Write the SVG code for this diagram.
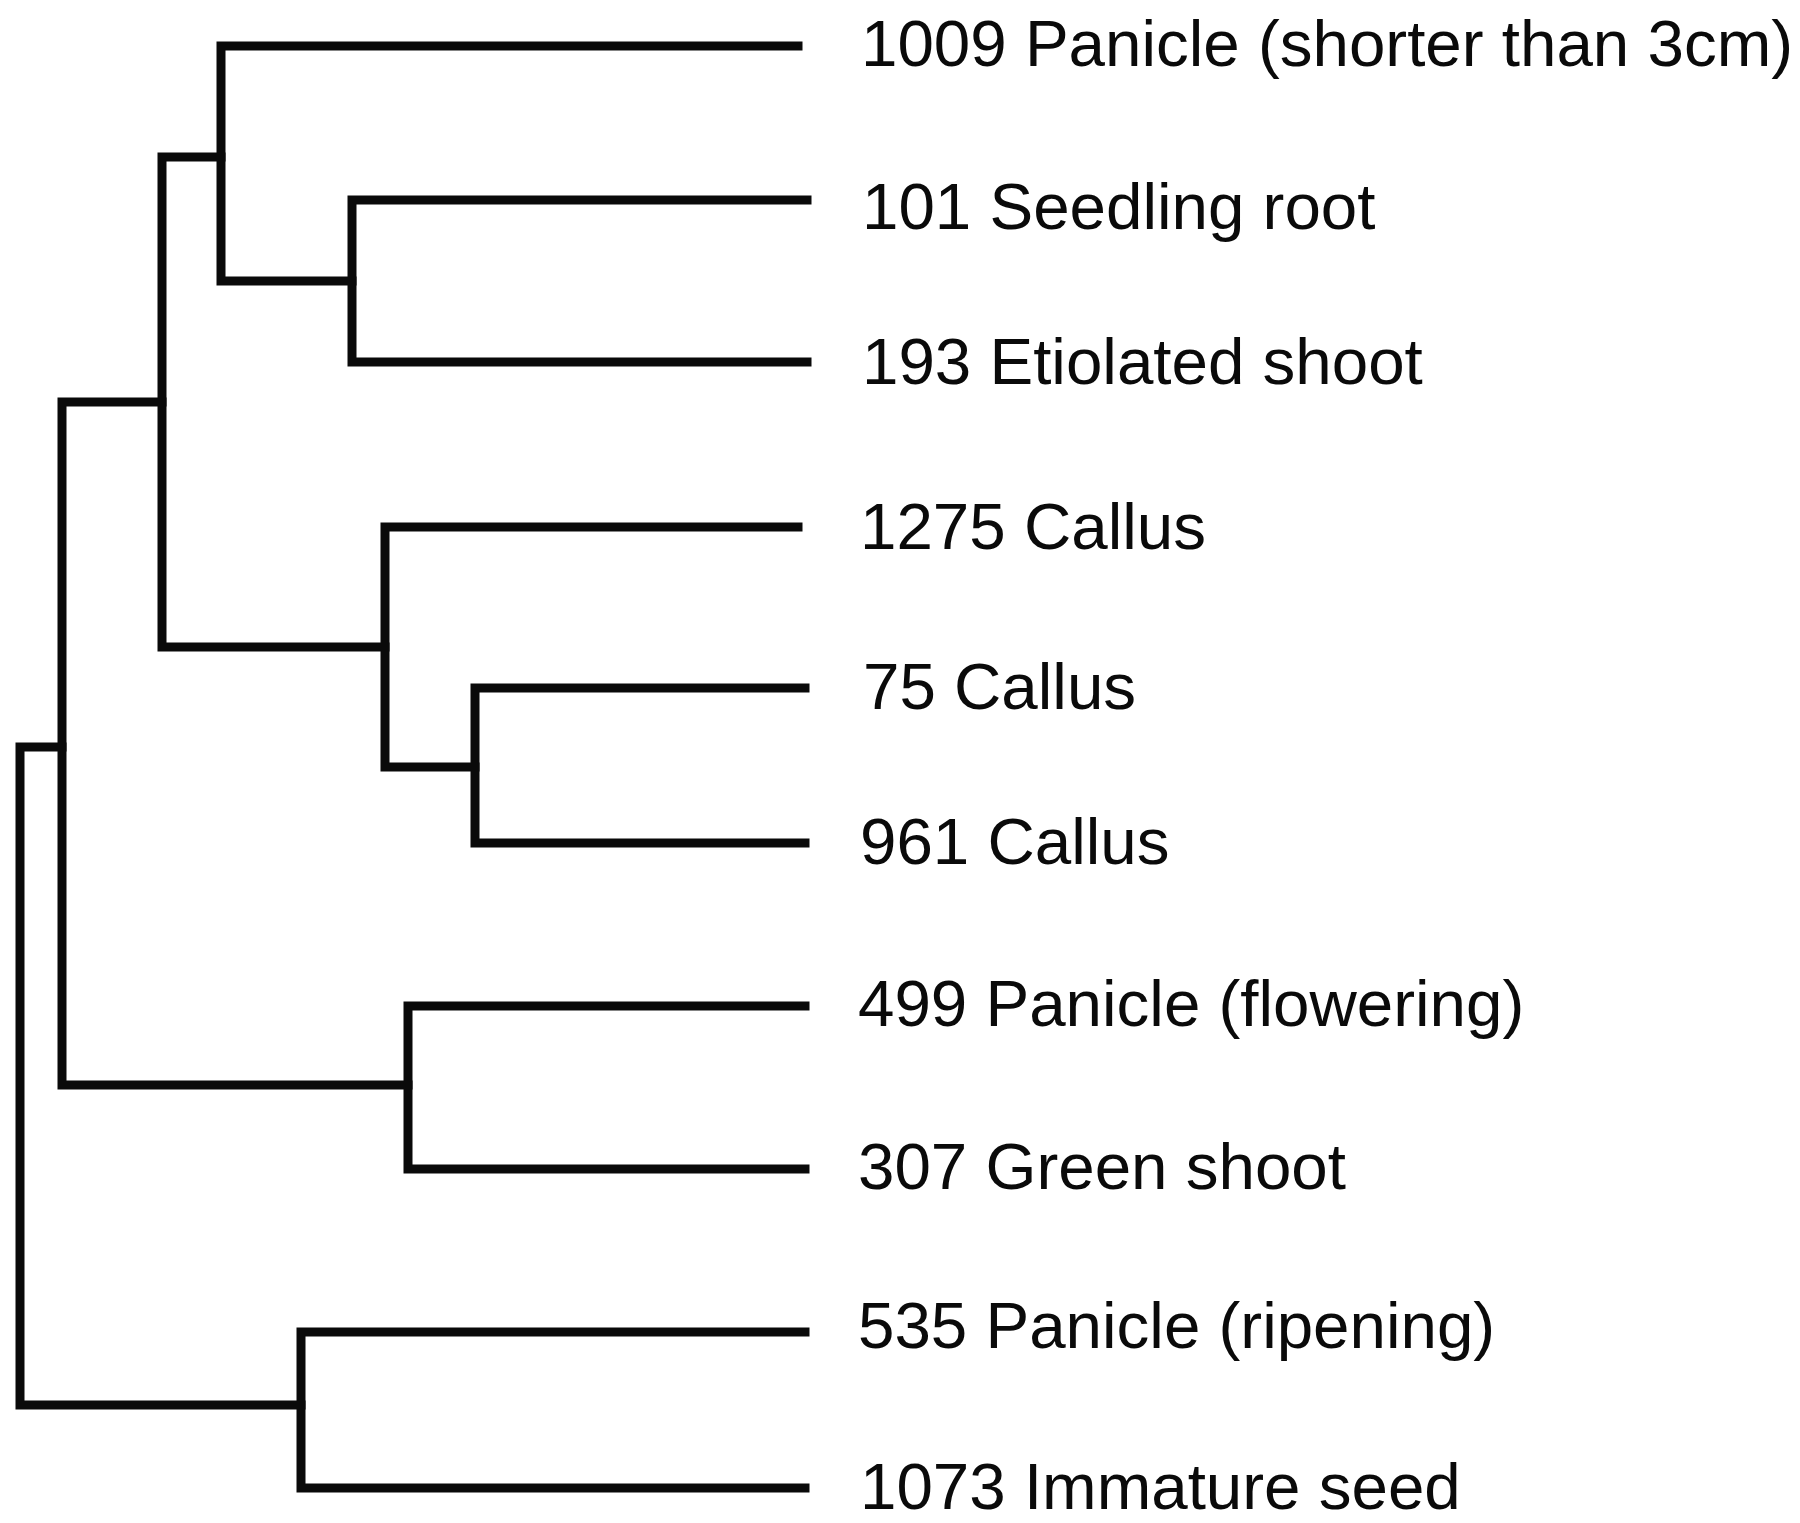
<svg xmlns="http://www.w3.org/2000/svg" width="1800" height="1523" viewBox="0 0 1800 1523">
<style>
.br{fill:none;stroke:#0a0a0a;stroke-width:9;stroke-linecap:square;stroke-linejoin:miter}
.lb{font-family:"Liberation Sans",Arial,Helvetica,sans-serif;font-size:65.5px;fill:#0a0a0a}
</style>
<rect width="1800" height="1523" fill="#fff"/>
<g id="connectors">
<path class="br" d="M798,46 H221 V281 H352"/>
<path class="br" d="M807,200 H352 V362 H807"/>
<path class="br" d="M221,157 H162 V647 H385"/>
<path class="br" d="M805,688 H475 V843 H805"/>
<path class="br" d="M798,527 H385 V767 H475"/>
<path class="br" d="M162,402 H62 V1085 H408"/>
<path class="br" d="M805,1006 H408 V1169 H805"/>
<path class="br" d="M62,747 H20 V1405 H301"/>
<path class="br" d="M805,1332 H301 V1488 H805"/>
</g>
<g id="leaf-1009"><text class="lb" x="861" y="66">1009 Panicle (shorter than 3cm)</text></g>
<g id="leaf-101"><text class="lb" x="862" y="229">101 Seedling root</text></g>
<g id="leaf-193"><text class="lb" x="862" y="384">193 Etiolated shoot</text></g>
<g id="leaf-1275"><text class="lb" x="860" y="549">1275 Callus</text></g>
<g id="leaf-75"><text class="lb" x="863" y="709">75 Callus</text></g>
<g id="leaf-961"><text class="lb" x="860" y="864">961 Callus</text></g>
<g id="leaf-499"><text class="lb" x="858" y="1026">499 Panicle (flowering)</text></g>
<g id="leaf-307"><text class="lb" x="858" y="1189">307 Green shoot</text></g>
<g id="leaf-535"><text class="lb" x="858" y="1348">535 Panicle (ripening)</text></g>
<g id="leaf-1073"><text class="lb" x="860" y="1509">1073 Immature seed</text></g>
</svg>
